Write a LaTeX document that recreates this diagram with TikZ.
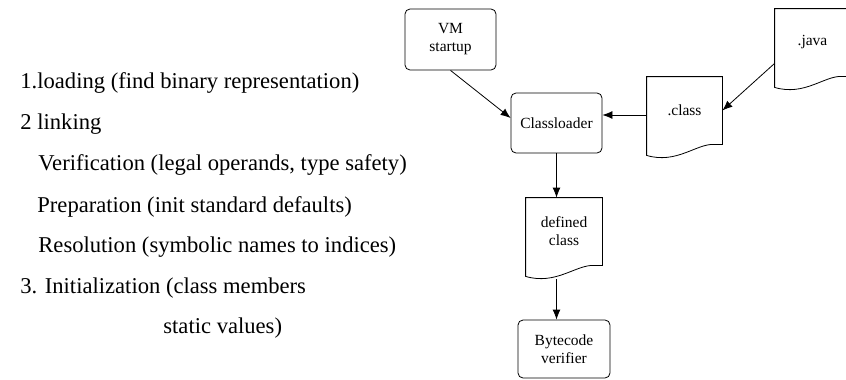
\documentclass[tikz,border=0pt]{standalone}
\usepackage{fontspec}
\setmainfont{Liberation Serif}
\newfontfamily\serifschrift{Liberation Serif}
\usetikzlibrary{arrows.meta, calc, shapes}

% Blatt mit welligem Unterrand um einen Knoten zeichnen
\newcommand{\wellenblatt}[1]{%
  \draw (#1.north west) -- (#1.north east) -- (#1.south east)
    -- ($(#1.south east)+(-8,0)$)
    .. controls ($(#1.south)+(12,-1)$) and ($(#1.south)+(-8,20)$) .. ($(#1.south west)+(0,11)$)
    -- cycle;}

\begin{document}
\begin{tikzpicture}[x=1pt, y=-1pt,
      >={Latex[length=10pt,width=8pt]},   %Pfeilspitzen
      line width=0.8pt,
      box/.style={draw, rounded corners=5pt, align=center, inner sep=0pt,
        font=\serifschrift\fontsize{15.5}{18}\selectfont},
      blatt/.style={align=center, inner sep=0pt, font=\serifschrift\fontsize{15.5}{18}\selectfont},
      zeile/.style={anchor=base west, inner sep=0pt, font=\serifschrift\fontsize{22.6}{24}\selectfont}]
  \useasboundingbox (0,0) rectangle (846,380);
  % Text links
  \node[zeile] (laden)    at (20,88)  {1.loading (find binary representation)};
  \node[zeile] (linken)   at (20,129) {2 linking};
  \node[zeile] (verif)    at (38,170) {Verification (legal operands, type safety)};
  \node[zeile] (prep)     at (37,212) {Preparation (init standard defaults)};
  \node[zeile] (resol)    at (38,252) {Resolution (symbolic names to indices)};
  \node[zeile] (init)     at (20,293) {3. Initialization (class members};
  \node[zeile] (statisch) at (163,333) {static values)};
  % Kaesten
  \node[box, minimum width=91pt, minimum height=61pt] (vm) at (450.5,39.5) {VM\\startup};
  \node[box, minimum width=91pt, minimum height=60pt] (cl) at (556.5,123) {Classloader};
  \node[box, minimum width=92pt, minimum height=58pt] (bv) at (564,349) {Bytecode\\verifier};
  % Blaetter
  \node[blatt, minimum width=75pt, minimum height=67pt] (java) at (812.5,42.5) {.java};
  \node[blatt, minimum width=75pt, minimum height=67pt] (cls)  at (684.5,110.5) {.class};
  \node[blatt, minimum width=76pt, minimum height=67pt] (def)  at (564,231.5) {defined\\class};
  \wellenblatt{java}
  \wellenblatt{cls}
  \wellenblatt{def}
  % Pfeile
  \draw[->] (vm.south) -- ($(cl.west)+(0,-5)$);
  \draw[->] ($(java.south west)+(0,-13)$) -- (cls.east);
  \draw[->] (cls.west |- {$(cl.east)+(0,-8)$}) -- ($(cl.east)+(0,-8)$);
  \draw[->] (cl.south) -- (cl.south |- def.north);
  \draw[->] ($(cl.south |- def.south)+(0,14)$) -- (cl.south |- bv.north);
\end{tikzpicture}
\end{document}
